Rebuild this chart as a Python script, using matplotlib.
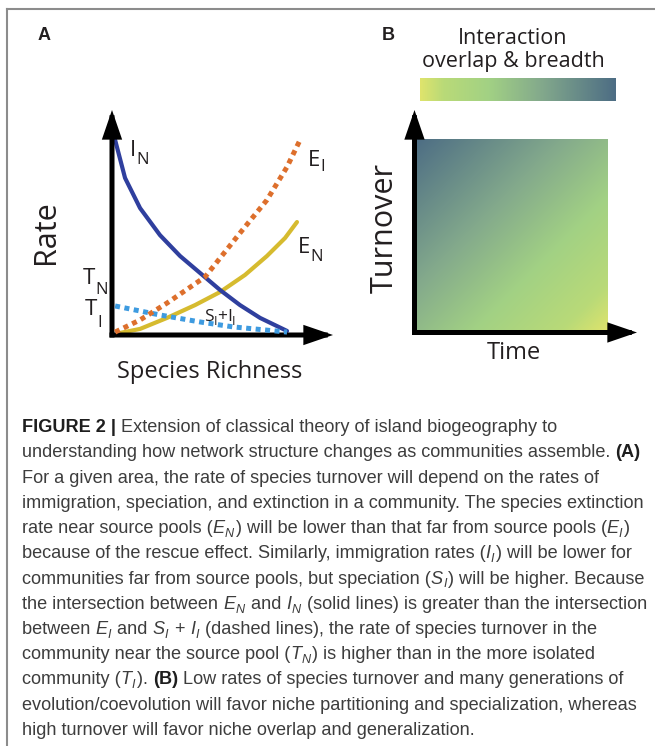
import numpy as np
import matplotlib
matplotlib.use('Agg')
import matplotlib.pyplot as plt
from matplotlib.colors import LinearSegmentedColormap
from matplotlib.font_manager import FontProperties
from matplotlib.lines import Line2D

W, H, DPI = 655, 746, 100

# panel A: rate vs species richness, both scaled 0..1
in_x = [0.014, 0.059, 0.127, 0.217, 0.308, 0.398, 0.489, 0.579, 0.670, 0.792]
in_y = [0.867, 0.698, 0.564, 0.444, 0.351, 0.276, 0.200, 0.133, 0.076, 0.018]
en_x = [0.036, 0.127, 0.249, 0.376, 0.489, 0.602, 0.701, 0.783, 0.837]
en_y = [0.009, 0.027, 0.076, 0.133, 0.191, 0.267, 0.351, 0.431, 0.502]
ei_x = [0.014, 0.127, 0.249, 0.421, 0.579, 0.701, 0.792, 0.851]
ei_y = [0.013, 0.067, 0.142, 0.258, 0.453, 0.600, 0.747, 0.867]
si_x = [0.014, 0.217, 0.398, 0.548, 0.792]
si_y = [0.129, 0.089, 0.058, 0.036, 0.013]

# panel B: colour ramp for interaction overlap & breadth
ramp_pos = [0.0, 0.12, 0.35, 0.62, 1.0]
ramp_col = ['#dfe46c', '#b9da78', '#a2d184', '#83a98c', '#4d6d84']

# caption, one list of (text, style) runs per line
caption = [
    [('FIGURE 2 |', 'b'), (' Extension of classical theory of island biogeography to', 'n')],
    [('understanding how network structure changes as communities assemble. ', 'n'), ('(A)', 'b')],
    [('For a given area, the rate of species turnover will depend on the rates of', 'n')],
    [('immigration, speciation, and extinction in a community. The species extinction', 'n')],
    [('rate near source pools (', 'n'), ('E', 'i'), ('N', 's'),
     (') will be lower than that far from source pools (', 'n'), ('E', 'i'), ('I', 's'), (')', 'n')],
    [('because of the rescue effect. Similarly, immigration rates (', 'n'), ('I', 'i'), ('I', 's'),
     (') will be lower for', 'n')],
    [('communities far from source pools, but speciation (', 'n'), ('S', 'i'), ('I', 's'),
     (') will be higher. Because', 'n')],
    [('the intersection between ', 'n'), ('E', 'i'), ('N', 's'), (' and ', 'n'), ('I', 'i'), ('N', 's'),
     (' (solid lines) is greater than the intersection', 'n')],
    [('between ', 'n'), ('E', 'i'), ('I', 's'), (' and ', 'n'), ('S', 'i'), ('I', 's'), (' + ', 'n'),
     ('I', 'i'), ('I', 's'), (' (dashed lines), the rate of species turnover in the', 'n')],
    [('community near the source pool (', 'n'), ('T', 'i'), ('N', 's'),
     (') is higher than in the more isolated', 'n')],
    [('community (', 'n'), ('T', 'i'), ('I', 's'), ('). ', 'n'), ('(B)', 'b'),
     (' Low rates of species turnover and many generations of', 'n')],
    [('evolution/coevolution will favor niche partitioning and specialization, whereas', 'n')],
    [('high turnover will favor niche overlap and generalization.', 'n')],
]

DIAG_FONT = 'Open Sans'
CAP_FONT = 'Liberation Sans'
INK = '#231f20'

fig = plt.figure(figsize=(W / DPI, H / DPI), dpi=DPI)
fig.patch.set_facecolor('white')
renderer = fig.canvas.get_renderer()


def fx(x):
    return x / W


def fy(y):
    return 1 - y / H


def advance(s, fp):
    w1 = renderer.get_text_width_height_descent('x' + s + 'x', fp, ismath=False)[0]
    w0 = renderer.get_text_width_height_descent('xx', fp, ismath=False)[0]
    return w1 - w0


def write(x, y, runs, family, color, draw=True):
    # runs: (text, size, weight, style, dy in px, colour or None)
    for text, size, weight, style, dy, col in runs:
        fp = FontProperties(family=family, size=size, weight=weight, style=style)
        if draw:
            fig.text(fx(x), fy(y + dy), text, fontproperties=fp, color=col or color,
                     ha='left', va='baseline')
        x += advance(text, fp)
        if style == 'italic' and dy > 0:
            x += 1.5   # room for the slant of an italic subscript
    return x


# frame around the figure (top and left edges visible)
fig.add_artist(Line2D([fx(7), 1.0], [fy(9), fy(9)], color='#8c8c8c', lw=1.5, transform=fig.transFigure))
fig.add_artist(Line2D([fx(7), fx(7)], [fy(9), 0.0], color='#8c8c8c', lw=1.5, transform=fig.transFigure))

arrow = dict(arrowstyle='-|>,head_length=0.7,head_width=0.24', lw=3.6, color='black',
             mutation_scale=20, shrinkA=0, shrinkB=0, joinstyle='miter', capstyle='projecting')

# ---- panel A ----
axA = fig.add_axes([fx(112), fy(335), 221 / W, 225 / H])
axA.set_xlim(0, 1)
axA.set_ylim(0, 1)
axA.axis('off')
axA.plot(en_x, en_y, color='#d6bb2f', lw=3.0, solid_capstyle='round', zorder=2)
axA.plot(in_x, in_y, color='#2f3f9e', lw=3.0, solid_capstyle='round', zorder=3)
axA.plot(si_x, si_y, color='#3e9be0', lw=3.6, dashes=(1, 0.9), dash_capstyle='butt', zorder=4)
axA.plot(ei_x, ei_y, color='#dd6f2c', lw=3.6, dashes=(1, 0.9), dash_capstyle='butt', zorder=5)
axA.annotate('', xy=(1, 0), xytext=(0, 0), xycoords='axes fraction', arrowprops=arrow)
axA.annotate('', xy=(0, 1), xytext=(0, 0), xycoords='axes fraction', arrowprops=arrow)

fig.text(fx(38), fy(40), 'A', family='Liberation Sans', weight='bold', size=13, color=INK, va='baseline')
fig.text(fx(46), fy(232), 'Rate', family=DIAG_FONT, size=22, rotation=90, ha='center', va='center', color=INK)
fig.text(fx(210), fy(372), 'Species Richness', family=DIAG_FONT, size=17, ha='center', va='center', color=INK)


def label(x, y, main, sub, size=16, subsize=12, dy=8):
    write(x, y, [(main, size, 'normal', 'normal', 0, None), (sub, subsize, 'normal', 'normal', dy, None)],
          DIAG_FONT, INK)


label(130, 156, 'I', 'N')
label(308, 166, 'E', 'I', dy=5)
label(298, 253, 'E', 'N')
label(83, 284, 'T', 'N', dy=10)
label(85, 315, 'T', 'I', dy=12)
write(204, 321, [('S', 12.5, 'normal', 'normal', 0, None), ('I', 9, 'normal', 'normal', 4, None),
                 ('+', 12.5, 'normal', 'normal', 0, None), ('I', 12.5, 'normal', 'normal', 0, None),
                 ('I', 9, 'normal', 'normal', 4, None)], DIAG_FONT, INK)

# ---- panel B ----
ramp = LinearSegmentedColormap.from_list('overlap', list(zip(ramp_pos, ramp_col)))

axC = fig.add_axes([fx(420), fy(101), 196 / W, 23 / H])
axC.imshow(np.linspace(0, 1, 256)[None, :], cmap=ramp, aspect='auto', extent=(0, 1, 0, 1))
axC.axis('off')

axB = fig.add_axes([fx(414.5), fy(332.5), 222.5 / W, 222.5 / H])
axB.set_xlim(0, 1)
axB.set_ylim(0, 1)
axB.axis('off')
time = np.linspace(0, 1, 200)
turn = np.linspace(0, 1, 200)
T, U = np.meshgrid(time, turn)
axB.imshow((1 - T + U) / 2, cmap=ramp, origin='lower', extent=(0, 0.865, 0, 0.865),
           aspect='auto', vmin=0, vmax=1, zorder=1)
axB.annotate('', xy=(1, 0), xytext=(0, 0), xycoords='axes fraction', arrowprops=arrow)
axB.annotate('', xy=(0, 1), xytext=(0, 0), xycoords='axes fraction', arrowprops=arrow)

fig.text(fx(382), fy(40), 'B', family='Liberation Sans', weight='bold', size=13, color=INK, va='baseline')
fig.text(fx(513), fy(44), 'Interaction', family=DIAG_FONT, size=15.5, ha='center', va='baseline', color=INK)
fig.text(fx(513), fy(67), 'overlap & breadth', family=DIAG_FONT, size=15.5, ha='center', va='baseline', color=INK)
fig.text(fx(385), fy(228), 'Turnover', family=DIAG_FONT, size=22, rotation=90, ha='center', va='center', color=INK)
fig.text(fx(514), fy(353), 'Time', family=DIAG_FONT, size=17, ha='center', va='center', color=INK)

# ---- caption ----
CAP_COL = '#3d3d3d'


def cap_runs(line, size):
    out = []
    for text, kind in line:
        if kind == 'b':
            out.append((text, size, 'bold', 'normal', 0, '#1e1e1e'))
        elif kind == 'i':
            out.append((text, size, 'normal', 'italic', 0, None))
        elif kind == 's':
            out.append((text, size * 0.7, 'normal', 'italic', size * 0.3, None))
        else:
            out.append((text, size, 'normal', 'normal', 0, None))
    return out


# size the caption so the longest line spans the same width as the reference
w12 = write(0, 0, cap_runs(caption[1], 12), CAP_FONT, CAP_COL, draw=False)
cap_size = 12 * 620 / w12
for i, line in enumerate(caption):
    write(22, 432 + i * 25.25, cap_runs(line, cap_size), CAP_FONT, CAP_COL)

fig.savefig('out.png', dpi=DPI, facecolor='white')
